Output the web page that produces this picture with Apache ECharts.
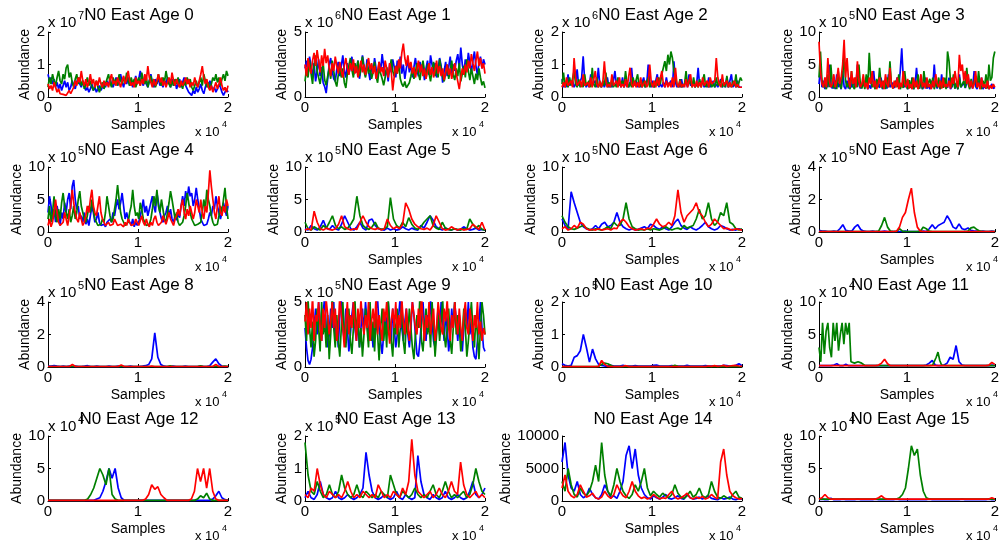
<!DOCTYPE html>
<html>
<head>
<meta charset="utf-8">
<script src="https://cdn.jsdelivr.net/npm/echarts@6/dist/echarts.min.js"></script>
<style>
html,body{margin:0;padding:0;background:#fff;}
#chart{width:1002px;height:546px;}
</style>
</head>
<body>
<div id="chart"></div>
<script>
// MCMC traces of N0 abundance (East) per age class, three chains each.
// Values are in units of the panel's axis multiplier (x 10^k), samples in units of 10^4.

const titles = ['N0 East Age 0','N0 East Age 1','N0 East Age 2','N0 East Age 3',
  'N0 East Age 4','N0 East Age 5','N0 East Age 6','N0 East Age 7',
  'N0 East Age 8','N0 East Age 9','N0 East Age 10','N0 East Age 11',
  'N0 East Age 12','N0 East Age 13','N0 East Age 14','N0 East Age 15'];
const yMax  = [2, 5, 2, 10, 10, 10, 10, 4, 4, 5, 2, 10, 10, 2, 10000, 10];
const yStep = [1, 5, 1, 5, 5, 5, 5, 2, 2, 5, 1, 5, 5, 1, 5000, 5];
const yExp  = ['7','6','6','5','5','5','5','5','5','5','5','4','4','5','','4'];
const xTicks = [0, 1, 2];
const xExp = '4';
const chainColors = ['#0000ff', '#008000', '#ff0000'];

const age0Blue = [0.7,0.5,0.6,0.4,0.55,0.3,0.45,0.25,0.4,0.2,0.35,0.5,0.3,0.45,0.2,0.3,0.5,0.35,0.25,0.45,
 0.6,0.4,0.3,0.5,0.35,0.2,0.3,0.15,0.25,0.4,0.2,0.3,0.15,0.25,0.35,0.2,0.3,0.45,0.3,0.5,
 0.35,0.55,0.4,0.3,0.45,0.6,0.35,0.5,0.7,0.45,0.3,0.55,0.4,0.6,0.35,0.5,0.3,0.45,0.65,0.4,
 0.55,0.8,0.5,0.35,0.6,0.4,0.3,0.5,0.7,0.45,0.3,0.55,0.4,0.6,0.35,0.45,0.3,0.5,0.4,0.6,
 0.45,0.3,0.55,0.35,0.5,0.25,0.4,0.55,0.3,0.45,0.6,0.35,0.25,0.15,0.1,0.05,0.2,0.1,0.3,0.15,
 0.25,0.4,0.2,0.1,0.3,0.45,0.3,0.5,0.35,0.2,0.3,0.15,0.25,0.4,0.3,0.15,0.05,0.1,0.25,0.15];
const age0Green = [0.3,0.6,0.4,0.7,0.5,0.35,0.6,0.8,0.5,0.4,0.7,0.55,0.9,1.0,0.6,0.75,0.45,0.3,0.55,0.7,
 0.4,0.6,0.35,0.5,0.25,0.4,0.6,0.35,0.5,0.3,0.2,0.35,0.5,0.3,0.15,0.3,0.45,0.25,0.4,0.55,
 0.7,0.45,0.3,0.6,0.4,0.55,0.35,0.7,0.5,0.4,0.6,0.45,0.75,0.5,0.35,0.6,0.4,0.55,0.3,0.45,
 0.6,0.35,0.75,0.5,0.4,0.6,0.3,0.5,0.65,0.4,0.55,0.3,0.45,0.7,0.5,0.35,0.6,0.45,0.8,0.55,
 0.4,0.3,0.5,0.35,0.55,0.4,0.6,0.3,0.45,0.25,0.5,0.35,0.6,0.4,0.55,0.3,0.2,0.35,0.5,0.3,
 0.45,0.6,0.35,0.7,0.5,0.3,0.45,0.25,0.4,0.6,0.5,0.7,0.45,0.6,0.35,0.55,0.7,0.5,0.8,0.65];
const age0Red = [0.4,0.25,0.35,0.2,0.45,0.3,0.15,0.25,0.1,0.15,0.08,0.12,0.05,0.1,0.2,0.1,0.15,0.3,0.5,0.35,
 0.6,0.45,0.8,0.5,0.35,0.55,0.3,0.45,0.7,0.4,0.55,0.3,0.5,0.35,0.6,0.4,0.3,0.5,0.35,0.45,
 0.3,0.55,0.7,0.4,0.5,0.35,0.6,0.45,0.3,0.5,0.65,0.4,0.55,0.8,0.5,0.35,0.45,0.3,0.6,0.4,
 0.5,0.35,0.55,0.4,0.7,0.5,0.95,0.6,0.45,0.3,0.55,0.35,0.5,0.7,0.45,0.6,0.35,0.5,0.3,0.45,
 0.6,0.4,0.75,0.5,0.35,0.55,0.4,0.3,0.5,0.35,0.45,0.6,0.4,0.55,0.3,0.45,0.35,0.6,0.4,0.3,
 0.5,0.7,0.95,0.6,0.4,0.55,0.3,0.2,0.35,0.15,0.3,0.45,0.25,0.4,0.6,0.35,0.2,0.3,0.15,0.35];

const age1Blue = [2.2,2.8,1.8,3.1,2.4,1.5,2.6,1.2,2,2.9,1.6,2.3,1.1,0.8,0.3,1.4,2.5,3,2,1.4,
 1.2,2.1,2.7,1.6,2.4,3.2,2,1.5,2.6,1.8,2.3,3.1,1.7,2.5,1.9,2.8,1.4,2.2,3.2,2.4,
 1.6,2.9,2,1.3,2.5,1.8,3,2.2,1.5,2.7,2,3.3,2.4,1.6,2.2,1.2,2.6,1.9,2.9,2.3,
 1.5,2.8,2.1,3.1,1.8,2.5,1.4,2.2,2.9,1.9,2.6,1.5,2.3,3,2.1,1.6,2.7,2,2.4,1.3,
 2.2,2.8,1.7,3.2,2.5,1.9,2.6,1.5,2.2,3,2.4,1.1,2,2.7,1.6,2.3,3.1,1.8,2.5,2,
 2.8,3.3,2.2,3.8,2.5,1.8,2.9,2.2,3.4,2.6,1.9,2.8,3.5,2.4,1.7,2.6,3.1,2.2,2.9,2.5];
const age1Green = [1.2,2.2,1.5,2.8,1.8,1,2.4,3.2,2,1.5,1,1.8,2.6,1.3,0.9,1.6,2.2,1.4,2.8,2,
 1.2,0.8,1.7,2.5,1.5,2.2,1.1,0.7,1.8,2.4,3,2.1,1.5,2.6,1.9,2.8,1.6,2.3,3.1,2,
 1.5,2.6,1.8,2.4,1.4,1.9,2.7,1.6,1.1,2.2,1.8,1.4,0.9,1.5,2.3,1.7,2.1,2.9,2,1.6,
 2.4,1.8,2.6,1.4,1,0.8,1.2,0.7,0.6,1.1,1.6,2.2,1.4,1.9,2.6,1.8,1.3,2.2,2.8,2,
 1.4,2.5,1.8,1.2,2.1,2.7,1.6,2.3,1.5,2.9,2.2,1.6,1.2,1.9,2.5,1.4,2,2.8,1.7,1.3,
 2.2,1.6,2.6,1.2,1.8,2.4,1.5,2.9,2,1.3,2.2,1.6,1,1.8,1.3,2.2,1.5,0.9,1.2,0.7];
const age1Red = [2.5,1.6,3,2.2,1.8,2.8,3.4,2.4,3.6,2.8,1.9,3.2,2.4,3.7,2.6,3.2,2.2,1.6,2.6,2,
 3.1,2.4,1.8,2.7,2,1.5,2.4,3,2.2,1.7,2.6,2,2.9,1.8,2.4,1.5,2.2,2.8,1.9,2.5,
 1.7,2.3,3,2.1,2.6,1.8,2.4,1.4,2,2.7,1.9,2.3,1.6,2.8,2.2,1.5,2.6,2,0.5,1.6,
 2.4,1.8,2.9,2.2,3.4,4.1,3,2.4,3.2,2.2,2.7,1.8,2.3,1.5,2.1,2.8,1.9,2.5,1.6,2.2,
 1.4,2,2.6,1.7,2.3,1.5,2.1,2.8,1.8,2.4,1.6,2.2,1.3,1.9,2.5,1.7,2.2,1.4,2,2.6,
 1.8,1.2,0.6,1.5,2.2,1.7,2.5,1.9,2.8,2.2,3.3,2.6,2,2.8,3.5,2.4,3,2.2,2.6,1.8];

const age2Blue = [0.55,0.3,0.45,0.3,0.7,0.35,0.3,0.5,0.3,0.4,0.85,0.35,0.3,0.6,1.25,0.5,0.3,0.4,0.3,0.7,
 0.35,0.3,0.5,0.3,0.9,0.4,0.3,0.45,0.3,0.35,0.6,0.3,0.4,0.3,0.5,0.8,0.35,0.3,0.45,0.3,
 0.6,0.3,0.35,0.5,0.3,0.4,0.9,0.35,0.3,0.5,0.3,0.45,0.3,0.35,0.6,0.3,0.4,1.0,0.4,0.3,
 0.5,0.3,0.35,0.7,0.3,0.4,0.3,0.45,0.3,0.6,0.35,0.3,0.5,0.3,1.1,0.45,0.3,0.4,0.3,0.55,
 0.3,0.35,0.5,0.3,0.7,0.35,0.3,0.45,0.3,0.4,0.9,0.35,0.3,0.5,0.3,0.4,0.3,0.6,0.3,0.35,
 0.5,0.3,0.4,0.3,0.35,0.55,0.3,0.4,0.3,0.6,0.3,0.35,0.7,0.3,0.4,0.3,0.5,0.3,0.35,0.3];
const age2Green = [0.4,0.75,0.3,0.5,0.3,0.6,0.35,0.3,0.8,0.4,0.3,0.55,0.3,0.45,0.3,0.7,0.35,0.3,0.5,0.3,
 0.9,0.4,0.3,0.6,0.3,0.4,0.3,0.5,0.35,0.75,0.3,0.45,0.3,0.55,0.3,0.4,0.3,0.6,0.35,0.3,
 0.5,0.3,0.8,0.4,0.3,0.45,0.3,0.6,0.35,0.3,0.7,0.3,0.4,0.3,0.5,0.3,0.35,0.6,0.3,0.45,
 0.45,0.3,0.5,0.35,0.6,0.4,0.7,0.9,1.1,0.8,1.3,1.0,1.4,1.2,0.8,0.6,0.4,0.3,0.55,0.3,
 0.3,0.4,0.8,0.35,0.3,0.5,0.3,0.6,0.3,0.4,0.3,0.55,0.3,0.35,0.7,0.3,0.45,0.3,0.5,0.3,
 0.4,0.3,0.6,0.35,0.3,0.5,0.3,0.45,0.3,0.65,0.3,0.4,0.3,0.5,0.35,0.7,0.3,0.45,0.6,0.5];
const age2Red = [0.3,0.45,0.3,0.6,0.35,0.3,0.5,0.3,1.2,0.6,0.35,0.3,0.5,0.3,0.7,0.35,0.3,0.45,0.3,0.6,
 0.3,0.35,0.8,0.4,0.3,0.5,0.3,0.45,1.1,0.5,0.3,0.4,0.3,0.7,0.35,0.3,0.5,0.3,0.6,0.3,
 0.4,0.3,0.55,0.3,0.35,0.9,0.4,0.3,0.5,0.3,0.45,0.3,0.6,0.3,0.35,0.5,0.3,0.4,1.0,0.45,
 0.3,0.5,0.3,0.6,0.35,0.3,0.8,0.4,0.3,0.5,0.3,0.45,0.3,0.6,0.3,0.9,0.4,0.3,0.5,0.3,
 0.4,0.3,0.55,0.3,0.35,0.7,0.3,0.4,0.3,0.5,0.3,0.45,0.3,0.6,0.35,0.3,0.5,0.3,0.6,0.4,
 0.35,0.5,1.2,0.6,0.4,0.3,0.7,0.35,0.3,0.5,0.3,0.45,0.3,0.35,0.5,0.3,0.4,0.3,0.35,0.3];

const age3Blue = [2,4.5,1.5,2.5,1.2,3,1.5,5,2,1.3,2.5,1.2,3.5,1.5,2.2,1.2,4,1.6,1.2,2.5,
 1.3,3,1.5,1.2,2.2,1.5,5,2,1.3,1.2,2.5,1.5,3,1.2,1.8,1.3,2.5,4,1.5,1.2,
 2,1.4,3,1.2,1.6,2.5,1.3,3.5,1.5,1.2,2.2,1.4,1.2,3,1.6,4,7.5,3,1.5,2.5,
 1.2,2,1.4,3,1.2,1.8,4.5,2,1.3,2.5,1.2,1.6,3,1.3,1.8,1.2,2.5,1.5,5,2,
 1.3,2.5,1.2,3.5,1.5,1.2,2,1.4,3,1.2,1.6,2.5,1.3,2,1.2,3.5,1.5,1.2,2.2,1.4,
 1.2,3,1.5,2,1.3,4,1.6,1.2,2.5,1.4,3,1.2,1.8,1.3,2.5,1.2,1.6,2,1.3,1.5];
const age3Green = [3,7,2.5,1.5,2,1.2,3.5,1.5,5,2,1.3,2.5,1.2,4,1.8,1.3,3,6.5,2.5,1.5,
 2.2,1.2,4,1.6,1.2,3,1.5,5,2,1.3,2.5,1.2,3.5,1.4,6.8,3,1.5,2,1.2,2.8,
 1.5,4.5,2,1.3,2.5,1.2,3,1.5,5.5,2,1.3,1.2,2.5,1.5,3.5,1.2,2,1.4,4,1.8,
 1.2,2.6,1.4,3,1.2,2,1.5,3.5,1.3,2.5,1.2,4,2,1.5,1.2,2.8,1.4,3,1.2,2.2,
 1.5,3,1.2,2.5,1.4,3,1.2,7,5.5,2.5,1.5,3.5,1.3,2.2,1.2,3,1.5,1.2,2.5,1.4,
 4.5,2,1.2,2.8,1.5,1.2,3,1.4,4,1.8,1.2,2.5,1.5,3.5,1.3,5,2.5,3,6,7];
const age3Red = [8.5,4,2,1.5,3,1.5,6,2.5,1.5,2,3.5,1.5,2.5,4.5,2,3,5,8.8,3,6,
 2.5,1.5,4,2,3,1.5,5.5,2.5,1.5,2,3.5,1.5,2.2,1.2,3,2,4,1.5,2.5,1.2,
 2,3,1.5,2.5,1.2,3.5,2,1.5,4.5,2,1.3,2.5,1.5,3,1.2,2.2,1.5,4,2,1.5,
 2.8,1.3,2,1.2,3,1.5,2.5,1.2,2,3.5,1.5,2.2,1.3,3,1.5,2,1.2,2.5,1.5,3.5,
 2,1.5,2.5,1.3,3,1.5,2,1.5,2.5,1.3,3,2,4,2.5,1.5,6.5,4,5,2.5,4,
 2,3.5,1.5,2.5,1.3,2,4,1.5,2.2,1.2,3,1.5,2,1.3,2.5,1.2,1.8,1.3,2,1.5];

const age4Blue = [3,5.5,4,2,3.5,1.5,4,2.5,1,3,2,4.5,3,5,6,3.5,7,8,5,3.5,
 4,2,2.5,1.5,3,1.2,2,1,2.5,4,3,1.5,2,3,1.5,1,0.8,1.2,0.8,1.5,
 1.2,2,1.5,3,2.5,4,5,3.5,4.5,6,4,2,3,2,1.5,1,2,0.8,1.5,1,
 1.5,2.5,3.5,5,3,4,2.5,3.5,4.5,5.5,4,3,6,4.5,3,2,1.5,2.5,3,4,
 2.5,3.5,2,1.5,2.5,1.8,3,2.2,4,5.5,4,6.3,5,7,5.5,6,4,5,6.8,5,
 3.5,2,1.5,1,0.8,1.2,2,3,2.5,4,3.5,5.5,4,3,2,3,4.5,3.5,2.5,4];
const age4Green = [2,4,1.5,3,5.5,2.5,1.5,3.5,2,4.5,6,4,3,2,3.5,1.5,2.5,4,2,3,
 5,6.3,4,3,2,1.5,2.5,4,3,5,3.5,2,1.5,1,0.8,1.2,2,1.5,3,5.5,
 4,2.5,1.5,2,3.5,5,7.2,5,3,2,1.5,1,0.8,1.5,3,4,6.5,4,2.5,3,
 2,4.5,3.5,2,1.5,1,0.8,1.2,2,3.5,5.5,4,6.5,4,3,5,3.5,2,1.5,3,
 4.5,6.3,5,3.5,2,3,1.5,1,0.8,1.5,2.5,4,6,4.5,3,2,1.5,1,0.8,1.2,
 1,1.5,3,5,3.5,6.5,5,4,2.5,1.5,1,0.8,1.2,2.5,4,3,5,6.8,4,2];
const age4Red = [1,2,0.8,1.5,3,5,3,1.5,1,0.8,1.5,3,2,1,2.5,4,6.5,4.5,3,2,
 1.5,3,2,1,1.5,2.5,4,3,5,6.5,4,3,2.5,4,5.5,3,2,1.5,1,0.8,
 1.5,1,0.8,1.2,2,1.5,1,0.8,1.2,1,0.8,1.5,1,2,1.5,1,0.8,1.2,2,1.5,
 1,0.8,2.5,1.5,1,2,1.2,0.8,1.5,1,2,2.5,1.5,1,0.8,1.5,2.5,1.8,1.2,2,
 3,2,1.5,1,2,2.5,3.5,2.5,4,5,3,2,3.5,2.5,4,3,2,3,5,4,
 3,5,3,2,4,3,6,9.5,7,5,3,2,4,5.5,3,2.5,4,3,5,4];

const age5Blue = [0.5,0.3,1,0.5,0.3,0.8,1.8,0.6,0.4,1,0.5,0.3,1.2,2.5,1.5,0.5,0.3,0.8,1.5,0.6,0.3,1.8,2,1,0.5,0.4,0.3,0.6,0.3,0.5,0.3,0.4,0.8,0.5,0.3,0.6,0.4,0.3,1,0.6,1.5,2.5,1.8,0.8,0.5,0.3,0.6,0.4,0.3,0.5,0.3,0.4,0.8,0.5,0.3,0.4,0.6,0.3,0.4,0.3];
const age5Green = [1.5,0.5,0.3,0.8,0.5,0.3,1,0.6,1.5,2.5,1,0.5,0.8,0.4,0.6,1.2,2,5.5,2.5,1,0.6,0.4,0.8,1.5,0.6,0.4,0.5,0.8,5.3,2,1,0.6,1.5,0.8,2.2,1.2,0.6,0.4,0.8,1.5,2,2.5,1,0.6,0.4,1.5,0.6,0.4,0.3,0.5,0.4,0.3,0.5,0.4,2,1.2,0.6,1,0.4,0.3];
const age5Red = [0.3,0.5,0.3,3.2,1.5,0.5,0.3,0.6,0.4,0.3,0.5,1.2,2.5,0.8,0.5,0.3,0.5,0.4,1.5,2.5,1.5,0.8,0.5,0.4,0.6,0.3,0.5,2,1,0.5,0.8,0.5,1.2,4.5,3.5,2,1.2,0.8,0.5,0.4,0.6,0.3,1,2.5,1.5,0.5,0.3,0.4,0.8,0.5,0.3,0.5,0.3,0.4,0.5,1.2,0.8,0.4,1.5,0.3];

const age6Blue = [2,1,0.5,6.2,4.5,3,1.5,0.8,0.5,0.3,0.5,1,0.5,1.2,1.5,0.8,1,1.5,3,1.5,0.8,0.5,0.3,0.5,0.3,0.4,0.6,0.8,0.5,1.2,1,0.6,0.4,0.8,0.5,0.3,0.8,1.5,2,1,0.6,0.4,0.8,0.5,0.3,0.6,1,1.5,0.8,0.5,0.3,0.5,1,0.8,0.5,0.3,0.4,0.3,0.5,0.3];
const age6Green = [2.5,1.5,0.8,0.5,0.4,0.6,0.8,1,0.6,0.4,0.3,0.5,0.4,0.3,0.5,0.8,0.5,1.5,1,1,2,4.5,2,0.8,0.5,0.3,0.4,0.3,0.5,0.3,0.5,0.4,0.3,0.5,0.8,0.5,0.3,0.5,0.6,0.4,1,0.6,0.8,1,2,3.5,2,2.5,4.5,2,1,1.5,3,2.5,4.5,1.5,1.2,0.5,0.3,0.5];
const age6Red = [0.5,0.8,0.3,0.5,1,0.6,1.5,1.2,0.5,0.3,0.4,0.3,0.5,0.3,0.4,0.5,0.3,0.6,0.5,1.5,2,1.5,0.8,0.5,0.3,0.4,0.5,0.3,0.6,0.5,1.2,2,1.2,0.8,1,1.5,1,2.5,6.5,3,1.5,2.5,3,3.5,4.5,3,2.5,1.5,0.8,1.2,2,1.5,1,0.5,0.6,0.4,0.3,0.5,0.4,0.3];

const age7Blue = [0.1,0.05,0.05,0.03,0.03,0.05,0.03,0.2,0.45,0.1,0.05,0.05,0.3,0.45,0.15,0.05,0.03,0.03,0.05,0.03,0.03,0.03,0.05,0.03,0.03,0.03,0.03,0.03,0.03,0.05,0.03,0.03,0.03,0.03,0.03,0.05,0.03,0.2,0.45,0.2,0.4,0.5,0.6,1.0,0.7,0.3,0.2,0.5,0.2,0.15,0.25,0.1,0.05,0.05,0.03,0.05,0.03,0.03,0.05,0.03];
const age7Green = [0.03,0.03,0.03,0.03,0.03,0.03,0.03,0.03,0.03,0.03,0.03,0.03,0.03,0.03,0.03,0.03,0.03,0.03,0.03,0.03,0.05,0.4,0.9,0.3,0.05,0.03,0.03,0.2,0.05,0.03,0.03,0.03,0.03,0.03,0.05,0.3,0.2,0.05,0.03,0.03,0.03,0.03,0.03,0.03,0.03,0.03,0.03,0.03,0.03,0.03,0.05,0.25,0.3,0.15,0.05,0.03,0.03,0.03,0.03,0.03];
const age7Red = [0.03,0.03,0.03,0.03,0.03,0.03,0.03,0.03,0.03,0.03,0.03,0.03,0.03,0.03,0.03,0.03,0.03,0.03,0.03,0.03,0.03,0.03,0.03,0.03,0.03,0.03,0.05,0.3,0.9,1.2,2.0,2.7,1.2,0.3,0.05,0.03,0.03,0.03,0.03,0.03,0.03,0.03,0.03,0.03,0.03,0.03,0.03,0.03,0.03,0.03,0.03,0.03,0.03,0.03,0.03,0.03,0.03,0.03,0.03,0.03];

const age8Blue = [0.05,0.05,0.08,0.05,0.03,0.05,0.03,0.05,0.03,0.05,0.03,0.03,0.05,0.08,0.03,0.03,0.05,0.03,0.03,0.03,0.05,0.03,0.03,0.05,0.03,0.03,0.03,0.05,0.03,0.03,0.03,0.05,0.08,0.15,0.5,2.1,0.6,0.15,0.05,0.03,0.03,0.05,0.03,0.03,0.03,0.05,0.03,0.03,0.03,0.03,0.05,0.03,0.03,0.08,0.3,0.5,0.2,0.05,0.03,0.03];
const age8Green = [0.03,0.03,0.03,0.03,0.03,0.03,0.03,0.03,0.03,0.03,0.03,0.03,0.03,0.03,0.03,0.03,0.03,0.03,0.03,0.03,0.03,0.03,0.03,0.03,0.03,0.03,0.03,0.03,0.03,0.03,0.03,0.03,0.03,0.03,0.03,0.03,0.03,0.03,0.03,0.03,0.07,0.03,0.03,0.03,0.03,0.03,0.03,0.03,0.03,0.03,0.07,0.03,0.03,0.03,0.03,0.03,0.03,0.03,0.06,0.03];
const age8Red = [0.03,0.03,0.03,0.03,0.03,0.03,0.03,0.03,0.15,0.03,0.03,0.03,0.03,0.03,0.03,0.03,0.03,0.03,0.03,0.03,0.03,0.03,0.03,0.03,0.12,0.03,0.03,0.03,0.03,0.03,0.03,0.03,0.03,0.03,0.06,0.03,0.03,0.03,0.03,0.03,0.03,0.03,0.03,0.03,0.03,0.03,0.03,0.03,0.03,0.03,0.03,0.03,0.03,0.03,0.03,0.15,0.03,0.03,0.03,0.03];

const age9Blue = [3,1.5,0.5,0.2,0.6,1.5,3,4.5,2.5,5,3.5,2,4,5.5,3,1.5,2.5,4.5,3,5,
 2,3.5,1.5,4,5.2,3,2,4.5,3,1.2,2.5,4,5,3,2,3.5,1.5,3,4.5,2.5,
 5,3.5,2,4,3,1.5,2.5,4.5,5.2,3,2,1,2.5,4,3,5,3.5,2,4.5,3,
 1.5,2.5,4,5.5,3,2,3.5,4.5,2.5,1.5,3,5,4,2.5,1,0.8,2,3.5,5,3,
 2,4,3,5.2,3.5,2,1.5,3,4.5,2.5,5,3.5,2,4,3,1.2,2.5,4.5,3,5,
 3.5,2,4,2.5,1.2,3,4.5,3,5,2.5,3.5,1.5,0.8,0.6,2,3.5,5,3,1.5,1.2];
const age9Green = [4,2,5.2,3,1.5,3.5,0.8,2,4.5,3,1.2,5,2.5,3.5,1.5,4,0.6,2.5,5.5,3,
 1.5,4,2,0.8,3,5,2.5,1.5,3.5,4.5,2,1,3,5.2,2.5,4,1.5,3,0.8,2.5,
 4.5,3,1.5,5,2,3.5,1.2,4,2.5,0.5,3,4.5,2,3.5,1.5,5.2,3,2,0.8,3.5,
 2.5,4.5,1.5,3,5,2,1,3.5,2.5,4.5,3,1.5,0.6,2.5,4,3,5.5,2,1.2,3,
 4.5,2.5,3.5,1.5,5,3,0.8,2.5,4,2,3.5,5.2,2.5,1.5,3,4.5,2,1,3,5,
 2.5,4,3,1.2,2.5,4.5,3,0.8,2,3.5,5,3,1.5,4,2.5,0.6,3,5,4,2.5];
const age9Red = [3.5,5,2.5,4.5,3,5.5,2,4,3.5,5,3,2,4.5,3,5.2,4,2.5,3.5,5,3,
 4.5,2,3,5.5,4,3,1.5,3.5,5,2.5,4,3,5,3.5,2,4.5,3,5.2,3.5,2.5,
 4,3,5,2,3.5,4.5,3,5.5,2.5,4,3,2,4.5,3.5,5,3,1.8,3.5,4.5,3,
 5,2.5,4,3,5.2,3.5,2.5,4.5,3,2,3.5,5,4,3,2.5,4.5,3,5.5,3.5,2,
 4,3,5,2.5,3.5,4.5,2,3,5,4,3,2.5,4.5,3.5,5.2,3,2,4,3,5,
 3.5,2.5,4.5,3,2,4,5,3,2.5,4.5,3.5,2,4,3,5,2.5,3.5,2,3,2.5];

const age10Blue = [0.1,0.05,0.03,0.05,0.3,0.35,0.5,1.0,0.6,0.15,0.55,0.25,0.08,0.05,0.03,0.03,0.05,0.03,0.03,0.03,0.05,0.03,0.03,0.03,0.04,0.03,0.03,0.03,0.03,0.03,0.05,0.06,0.03,0.03,0.03,0.03,0.04,0.03,0.03,0.03,0.03,0.05,0.03,0.03,0.03,0.03,0.03,0.04,0.03,0.03,0.03,0.03,0.03,0.05,0.04,0.03,0.03,0.05,0.1,0.04];
const age10Green = [0.01,0.01,0.01,0.01,0.01,0.01,0.01,0.01,0.01,0.01,0.01,0.01,0.02,0.08,0.12,0.1,0.05,0.01,0.01,0.01,0.01,0.01,0.01,0.01,0.01,0.01,0.01,0.01,0.01,0.01,0.01,0.01,0.01,0.01,0.01,0.01,0.02,0.05,0.02,0.01,0.01,0.01,0.01,0.01,0.01,0.01,0.01,0.01,0.01,0.01,0.01,0.01,0.01,0.01,0.01,0.01,0.01,0.01,0.01,0.01];
const age10Red = [0.01,0.01,0.01,0.01,0.01,0.01,0.01,0.01,0.01,0.01,0.01,0.01,0.02,0.2,0.08,0.02,0.01,0.01,0.01,0.01,0.02,0.04,0.01,0.01,0.01,0.01,0.01,0.01,0.01,0.01,0.01,0.01,0.01,0.01,0.01,0.01,0.01,0.01,0.01,0.01,0.01,0.01,0.01,0.01,0.01,0.01,0.01,0.01,0.03,0.02,0.04,0.02,0.03,0.05,0.02,0.03,0.04,0.05,0.03,0.02];

const age11Blue = [0.2,0.2,0.2,0.2,0.2,0.3,0.5,0.2,0.2,0.4,0.2,0.2,0.2,0.2,0.2,0.2,0.2,0.2,0.2,0.2,0.2,0.2,0.2,0.2,0.2,0.2,0.2,0.2,0.2,0.2,0.2,0.2,0.2,0.2,0.2,0.2,0.3,0.6,1.0,0.3,0.2,0.2,0.3,0.6,1.5,1.2,3.3,0.8,0.3,0.2,0.2,0.2,0.2,0.2,0.2,0.2,0.2,0.2,0.3,0.2];
const age11Green = [3,0.8,6.8,2,5.5,6.8,3,1.5,6.8,4,6.8,2.5,5,6.8,3.5,6.8,5,6.8,0.8,0.5,0.6,0.4,0.8,1.0,0.6,0.3,0.2,0.2,0.2,0.2,0.2,0.2,0.2,0.2,0.2,0.2,0.2,0.3,0.2,0.2,0.2,0.2,0.2,0.2,0.2,0.2,0.2,0.2,0.2,0.2,0.2,0.2,0.2,0.2,0.2,0.2,0.2,0.2,0.2,0.2,0.2,0.2,0.2,0.2,0.3,0.5,1.5,2.3,1.0,0.3,0.2,0.2,0.2,0.2,0.2,0.2,0.2,0.2,0.2,0.2,0.2,0.2,0.2,0.2,0.2,0.2,0.2,0.2,0.2,0.2,0.2,0.2,0.2,0.2,0.2,0.2,0.2,0.2,0.2,0.2];
const age11Red = [0.2,0.2,0.2,0.2,0.2,0.2,0.2,0.2,0.2,0.2,0.2,0.2,0.2,0.2,0.2,0.2,0.2,0.2,0.2,0.2,0.3,0.6,1.2,0.5,0.2,0.2,0.2,0.2,0.2,0.2,0.2,0.2,0.2,0.2,0.2,0.2,0.2,0.2,0.2,0.2,0.2,0.2,0.2,0.2,0.2,0.2,0.2,0.2,0.2,0.2,0.2,0.2,0.2,0.2,0.2,0.2,0.2,0.3,0.7,0.4];

const age12Blue = [0.1,0.1,0.1,0.1,0.1,0.1,0.1,0.1,0.1,0.1,0.1,0.1,0.1,0.1,0.1,0.1,0.3,0.5,1.5,3,5,3.5,5,2,0.5,0.1,0.1,0.1,0.1,0.1,0.1,0.1,0.1,0.1,0.1,0.1,0.1,0.1,0.1,0.1,0.1,0.1,0.1,0.1,0.1,0.1,0.1,0.1,0.1,0.1,0.1,0.1,0.1,0.1,0.3,0.8,1.5,0.5,0.2,0.1];
const age12Green = [0.1,0.1,0.1,0.1,0.1,0.1,0.1,0.1,0.1,0.1,0.1,0.1,0.1,0.3,1,2,3.5,5,4,2.5,5,1,0.3,0.1,0.1,0.1,0.1,0.1,0.1,0.1,0.1,0.1,0.1,0.1,0.1,0.1,0.1,0.1,0.1,0.1,0.1,0.1,0.1,0.1,0.1,0.1,0.1,0.1,0.1,0.3,0.8,0.5,1.2,0.3,0.1,0.1,0.1,0.1,0.1,0.1];
const age12Red = [0.1,0.1,0.1,0.1,0.1,0.1,0.1,0.1,0.1,0.1,0.1,0.1,0.1,0.1,0.1,0.1,0.1,0.1,0.1,0.1,0.1,0.1,0.1,0.1,0.1,0.1,0.1,0.1,0.1,0.1,0.1,0.1,0.3,1,2.5,1.8,2.2,1,0.5,0.1,0.1,0.1,0.1,0.1,0.1,0.1,0.1,0.3,1.5,5,3,5,2,5,1.5,0.3,0.1,0.1,0.1,0.1];

const age13Blue = [0.1,0.3,0.1,0.05,0.2,0.6,0.2,0.1,0.05,0.1,0.3,0.1,0.05,0.1,0.2,0.1,0.05,0.1,0.2,0.4,1.5,0.8,0.3,0.1,0.05,0.1,0.2,0.1,0.05,0.1,0.3,0.1,0.05,0.2,0.1,0.05,0.1,1.4,0.6,0.2,0.1,0.05,0.2,0.1,0.05,0.1,0.3,0.1,0.05,0.1,0.2,0.1,0.05,0.1,0.3,0.6,0.2,0.1,0.2,0.4];
const age13Green = [1.8,0.8,0.3,0.2,0.6,0.3,0.1,0.2,0.5,0.2,0.1,0.3,0.8,0.4,0.2,0.1,0.2,0.5,0.2,0.1,0.3,0.2,0.1,0.2,0.1,0.3,0.2,0.1,0.8,0.5,0.2,0.1,0.3,0.2,0.1,0.2,0.4,0.2,0.1,0.2,0.1,0.3,0.5,0.2,0.1,0.3,0.6,0.3,0.1,0.2,0.1,0.2,0.3,0.1,0.2,0.5,1.0,0.6,0.3,0.2];
const age13Red = [0.2,0.1,0.4,0.3,1.0,0.5,0.2,0.1,0.3,0.2,0.1,0.2,0.1,0.3,0.6,0.3,0.1,0.2,0.1,0.3,0.2,0.1,0.2,0.1,0.5,0.3,0.1,0.2,0.1,0.3,0.2,0.1,0.4,0.2,0.6,1.9,0.8,0.3,0.2,0.1,0.2,0.3,0.1,0.2,0.4,0.2,0.1,0.3,0.6,0.3,0.2,1.2,0.5,0.2,0.1,0.2,0.3,0.1,0.2,0.1];

const age14Blue = [6000,9000,4000,2000,1500,3000,1000,500,800,2000,1000,500,300,1000,2500,1500,500,800,400,1500,3000,7000,8500,5000,8000,4000,2000,1000,500,300,800,500,300,600,1000,400,300,500,800,400,300,1000,500,300,400,600,300,500,800,400,300,200,500,300,400,600,300,200,400,300];
const age14Green = [3000,1500,5000,2500,1000,600,2000,1200,800,1500,3000,5500,3000,9000,4000,1500,800,2500,5000,3000,1500,800,400,1000,2500,1500,3000,5000,2000,800,1500,1000,600,1200,800,500,1000,2500,1200,600,400,800,1500,600,1000,2000,800,500,1000,3000,1500,600,400,800,500,300,1000,1500,600,400];
const age14Red = [2000,4000,1500,800,500,1000,2500,1500,600,800,1200,500,300,600,1500,800,400,1000,2500,1500,800,500,1500,3000,1500,800,400,600,300,500,1000,600,300,500,400,1000,1500,600,300,500,800,1200,500,300,600,400,700,300,500,1000,600,300,6000,8000,4000,1500,800,500,300,400];

const age15Blue = [0.2,0.3,0.2,0.2,0.4,0.2,0.2,0.2,0.3,0.2,0.2,0.2,0.2,0.3,0.2,0.2,0.2,0.2,0.2,0.3,0.2,0.2,0.2,0.2,0.2,0.2,0.3,0.2,0.2,0.2,0.2,0.2,0.2,0.2,0.2,0.2,0.2,0.3,0.2,0.2,0.2,0.2,0.2,0.2,0.2,0.2,0.2,0.2,0.3,0.2,0.2,0.2,0.2,0.2,0.2,0.2,0.2,0.3,0.2,0.2];
const age15Green = [0.3,0.3,0.3,0.3,0.3,0.3,0.3,0.3,0.3,0.3,0.3,0.3,0.3,0.3,0.3,0.3,0.3,0.3,0.3,0.3,0.3,0.3,0.3,0.3,0.3,0.3,0.3,0.5,1,2,5,8.5,7,8,4,1.5,0.5,0.3,0.3,0.3,0.3,0.3,0.3,0.3,0.3,0.3,0.3,0.3,0.3,0.3,0.3,0.3,0.3,0.3,0.3,0.3,0.3,0.3,0.3,0.3];
const age15Red = [0.3,0.5,1,0.5,0.3,0.3,0.3,0.3,0.3,0.3,0.3,0.3,0.3,0.3,0.3,0.3,0.3,0.3,0.3,0.3,0.5,0.8,0.4,0.3,0.3,0.3,0.3,0.3,0.3,0.3,0.3,0.3,0.3,0.3,0.3,0.3,0.3,0.3,0.3,0.3,0.3,0.3,0.3,0.3,0.3,0.3,0.3,0.3,0.3,0.3,0.3,0.3,0.3,0.3,0.3,0.3,0.3,0.3,0.5,0.3];

const traces = [
  [age0Blue, age0Green, age0Red], [age1Blue, age1Green, age1Red],
  [age2Blue, age2Green, age2Red], [age3Blue, age3Green, age3Red],
  [age4Blue, age4Green, age4Red], [age5Blue, age5Green, age5Red],
  [age6Blue, age6Green, age6Red], [age7Blue, age7Green, age7Red],
  [age8Blue, age8Green, age8Red], [age9Blue, age9Green, age9Red],
  [age10Blue, age10Green, age10Red], [age11Blue, age11Green, age11Red],
  [age12Blue, age12Green, age12Red], [age13Blue, age13Green, age13Red],
  [age14Blue, age14Green, age14Red], [age15Blue, age15Green, age15Red]
];

// Panel geometry (4 x 4 subplot layout)
const FONT = '"Liberation Sans", Arial, sans-serif';
const colLeft = [48, 305, 562, 819];
const rowTop = [32, 167, 302, 436];
const PW = 180, PH = 65;

const grids = [], xAxes = [], yAxes = [], series = [], graphics = [];

function txt(text, x, y, size, align, z) {
  return { type: 'text', z: z || 10, silent: true, style: {
    text: text, x: x, y: y, fill: '#000', font: size + 'px ' + FONT,
    textAlign: align, textVerticalAlign: 'middle', align: align, verticalAlign: 'middle' } };
}

titles.forEach((title, p) => {
  const left = colLeft[p % 4], top = rowTop[Math.floor(p / 4)];
  const right = left + PW, bottom = top + PH;
  grids.push({ left: left, top: top, width: PW, height: PH });

  xAxes.push({
    gridIndex: p, type: 'value', min: xTicks[0], max: xTicks[xTicks.length - 1], interval: 1,
    axisLine: { show: true, lineStyle: { color: '#000', width: 1 } },
    axisTick: { show: true, inside: true, length: 3, lineStyle: { color: '#000' } },
    axisLabel: { fontSize: 15, color: '#000', fontFamily: FONT, margin: 3 },
    splitLine: { show: false },
    name: 'Samples', nameLocation: 'middle', nameGap: 21,
    nameTextStyle: { fontSize: 14, color: '#000', fontFamily: FONT }
  });
  yAxes.push({
    gridIndex: p, type: 'value', min: 0, max: yMax[p], interval: yStep[p],
    axisLine: { show: true, lineStyle: { color: '#000', width: 1 } },
    axisTick: { show: true, inside: true, length: 3, lineStyle: { color: '#000' } },
    axisLabel: { fontSize: 15, color: '#000', fontFamily: FONT, margin: 3,
                 formatter: v => String(v) },
    splitLine: { show: false },
    name: 'Abundance', nameLocation: 'middle', nameRotate: 90,
    nameGap: yMax[p] >= 1000 ? 40 : 16,
    nameTextStyle: { fontSize: 14, color: '#000', fontFamily: FONT }
  });

  traces[p].forEach((vals, c) => {
    series.push({
      type: 'line', xAxisIndex: p, yAxisIndex: p,
      data: vals.map((v, i) => [i * 2 / (vals.length - 1), v]),
      showSymbol: false, symbol: 'none', clip: true,
      lineStyle: { color: chainColors[c], width: 1.7 },
      itemStyle: { color: chainColors[c] },
      silent: true, z: 2 + c
    });
  });

  graphics.push(txt(title, left + 91, top - 17, 17, 'center', 10));
  if (yExp[p]) {
    graphics.push(txt('x 10', left, top - 9, 15, 'left', 11));
    graphics.push(txt(yExp[p], left + 30, top - 16, 11, 'left', 11));
  }
  graphics.push(txt('x 10', right - 33, bottom + 35, 13, 'left', 11));
  graphics.push(txt(xExp, right - 6, bottom + 28, 9, 'left', 11));
});

const chart = echarts.init(document.getElementById('chart'), null, { renderer: 'canvas' });
chart.setOption({
  animation: false,
  backgroundColor: '#fff',
  grid: grids, xAxis: xAxes, yAxis: yAxes, series: series,
  graphic: graphics
});
</script>
</body>
</html>
